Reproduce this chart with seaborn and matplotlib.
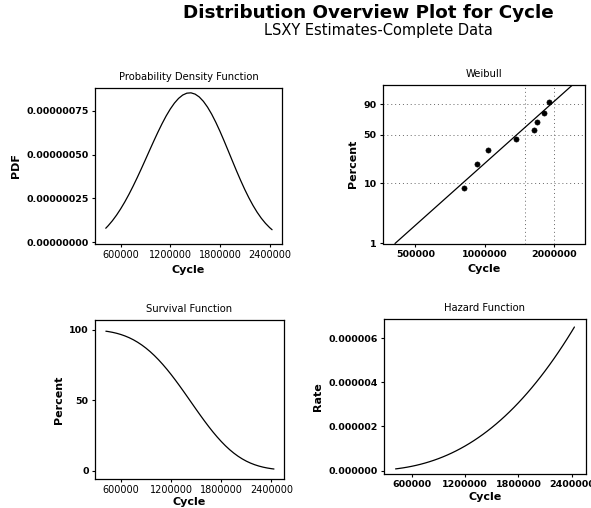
import numpy as np
import pandas as pd
import matplotlib
matplotlib.use("Agg")
import matplotlib.pyplot as plt
import seaborn as sns
from matplotlib.ticker import FixedLocator, FuncFormatter, NullLocator

# ---------------- data ----------------
cycle = [420000, 450000, 500000, 550000, 600000, 650000, 700000, 750000, 800000,
         850000, 900000, 950000, 1000000, 1050000, 1100000, 1150000, 1200000,
         1250000, 1300000, 1350000, 1400000, 1450000, 1500000, 1550000, 1600000,
         1650000, 1700000, 1750000, 1800000, 1850000, 1900000, 1950000, 2000000,
         2050000, 2100000, 2150000, 2200000, 2250000, 2300000, 2350000, 2400000,
         2430000]
pdf_vals = [7.99e-8, 9.47e-8, 1.226e-7, 1.545e-7, 1.904e-7, 2.300e-7, 2.732e-7,
            3.195e-7, 3.685e-7, 4.195e-7, 4.718e-7, 5.247e-7, 5.770e-7, 6.278e-7,
            6.760e-7, 7.206e-7, 7.601e-7, 7.939e-7, 8.207e-7, 8.398e-7, 8.505e-7,
            8.524e-7, 8.451e-7, 8.289e-7, 8.039e-7, 7.709e-7, 7.308e-7, 6.844e-7,
            6.333e-7, 5.785e-7, 5.217e-7, 4.644e-7, 4.076e-7, 3.529e-7, 3.010e-7,
            2.532e-7, 2.096e-7, 1.708e-7, 1.370e-7, 1.081e-7, 8.38e-8, 7.14e-8]
survival_pct = [99.04, 98.78, 98.23, 97.54, 96.68, 95.63, 94.38, 92.90, 91.18,
                89.21, 86.98, 84.49, 81.74, 78.72, 75.46, 71.97, 68.27, 64.38,
                60.34, 56.18, 51.95, 47.69, 43.44, 39.26, 35.17, 31.23, 27.47,
                23.93, 20.64, 17.60, 14.85, 12.39, 10.21, 8.31, 6.67, 5.29, 4.14,
                3.19, 2.42, 1.81, 1.33, 1.10]
hazard_rate = [8.07e-8, 9.59e-8, 1.248e-7, 1.584e-7, 1.969e-7, 2.405e-7, 2.894e-7,
               3.439e-7, 4.041e-7, 4.702e-7, 5.424e-7, 6.210e-7, 7.059e-7,
               7.975e-7, 8.959e-7, 1.0012e-6, 1.1135e-6, 1.2332e-6, 1.3602e-6,
               1.4950e-6, 1.6371e-6, 1.7873e-6, 1.9454e-6, 2.1115e-6, 2.2860e-6,
               2.4688e-6, 2.6601e-6, 2.8599e-6, 3.0687e-6, 3.2863e-6, 3.5129e-6,
               3.7485e-6, 3.9938e-6, 4.2477e-6, 4.5113e-6, 4.7849e-6, 5.0678e-6,
               5.3608e-6, 5.6637e-6, 5.9764e-6, 6.2995e-6, 6.4982e-6]

weib_cycle = [813000, 926000, 1030000, 1372000, 1630000, 1691000, 1801000, 1893000]
weib_pct = [8.3, 20.2, 32.1, 44.0, 56.0, 67.9, 79.8, 91.7]
fit_cycle = [408000, 2400000]
fit_pct = [1.0, 99.2]

lin_xticks = [600000, 1200000, 1800000, 2400000]
pdf_yticks = [0.0, 2.5e-7, 5.0e-7, 7.5e-7]
surv_yticks = [0, 50, 100]
haz_yticks = [0.0, 2e-6, 4e-6, 6e-6]
weib_xticks = [500000, 1000000, 2000000]
weib_yticks = [1, 10, 50, 90]
weib_hgrid = [10, 50, 90]
weib_vgrid = [1500000, 2000000]

# ---------------- style ----------------
sns.set_theme(style="ticks")
plt.rcParams["font.family"] = ["DejaVu Sans"]
plt.rcParams["text.color"] = "black"
plt.rcParams["axes.labelcolor"] = "black"
plt.rcParams["xtick.color"] = "black"
plt.rcParams["ytick.color"] = "black"
plt.rcParams["axes.edgecolor"] = "black"
plt.rcParams["axes.linewidth"] = 0.9
plt.rcParams["xtick.major.size"] = 2.5
plt.rcParams["ytick.major.size"] = 2.5
plt.rcParams["xtick.major.width"] = 0.8
plt.rcParams["ytick.major.width"] = 0.8

W, H = 591, 508
fig = plt.figure(figsize=(W / 100, H / 100), dpi=100)


def box(l, t, r, b):
    return [l / W, 1 - b / H, (r - l) / W, (b - t) / H]


ax_pdf = fig.add_axes(box(95, 88, 282, 244))
ax_wb = fig.add_axes(box(383, 85, 585, 243.5))
ax_sv = fig.add_axes(box(95, 320, 284, 479))
ax_hz = fig.add_axes(box(384, 319, 586, 474))

df = pd.DataFrame({"Cycle": cycle, "PDF": pdf_vals,
                   "Survival": survival_pct, "Rate": hazard_rate})

lab_kw = dict(fontsize=8, fontweight="bold")
title_kw = dict(fontsize=7.2)

for ax in (ax_pdf, ax_wb, ax_sv, ax_hz):
    ax.tick_params(colors="black", pad=2)

# PDF
sns.lineplot(data=df, x="Cycle", y="PDF", ax=ax_pdf, color="black", lw=0.9)
ax_pdf.set_xlim(290000, 2550000)
ax_pdf.set_ylim(-1.0e-8, 8.8e-7)
ax_pdf.yaxis.set_major_locator(FixedLocator(pdf_yticks))
ax_pdf.yaxis.set_major_formatter(FuncFormatter(lambda v, p: f"{v:.8f}"))
ax_pdf.set_title("Probability Density Function", pad=6, **title_kw)
ax_pdf.set_ylabel("PDF", labelpad=4, **lab_kw)

# Survival
sns.lineplot(data=df, x="Cycle", y="Survival", ax=ax_sv, color="black", lw=0.9)
ax_sv.set_xlim(290000, 2550000)
ax_sv.set_ylim(-6, 107)
ax_sv.yaxis.set_major_locator(FixedLocator(surv_yticks))
ax_sv.yaxis.set_major_formatter(FuncFormatter(lambda v, p: f"{v:.0f}"))
ax_sv.set_title("Survival Function", pad=6, **title_kw)
ax_sv.set_ylabel("Percent", labelpad=4, **lab_kw)

# Hazard
sns.lineplot(data=df, x="Cycle", y="Rate", ax=ax_hz, color="black", lw=0.9)
ax_hz.set_xlim(290000, 2560000)
ax_hz.set_ylim(-1.5e-7, 6.86e-6)
ax_hz.yaxis.set_major_locator(FixedLocator(haz_yticks))
ax_hz.yaxis.set_major_formatter(FuncFormatter(lambda v, p: f"{v:.6f}"))
ax_hz.set_title("Hazard Function", pad=6, **title_kw)
ax_hz.set_ylabel("Rate", labelpad=4, **lab_kw)

for ax, lp in ((ax_pdf, 3.5), (ax_sv, 1.0), (ax_hz, 2.0)):
    ax.xaxis.set_major_locator(FixedLocator(lin_xticks))
    ax.xaxis.set_major_formatter(FuncFormatter(lambda v, p: f"{v:.0f}"))
    ax.set_xlabel("Cycle", labelpad=lp, **lab_kw)


# Weibull probability plot
def fwd(p):
    p = np.clip(np.asarray(p, dtype=float), 1e-9, 100 - 1e-9)
    return np.log(-np.log(1 - p / 100.0))


def inv(y):
    return 100.0 * (1 - np.exp(-np.exp(np.asarray(y, dtype=float))))


ax_wb.set_xscale("log")
ax_wb.set_yscale("function", functions=(fwd, inv))
for g in weib_hgrid:
    ax_wb.axhline(g, color="0.4", lw=0.7, ls=(0, (1, 3)), zorder=0)
for g in weib_vgrid:
    ax_wb.axvline(g, color="0.4", lw=0.7, ls=(0, (1, 3)), zorder=0)
fit_df = pd.DataFrame({"Cycle": fit_cycle, "Percent": fit_pct})
sns.lineplot(data=fit_df, x="Cycle", y="Percent", ax=ax_wb, color="black", lw=0.9)
pts_df = pd.DataFrame({"Cycle": weib_cycle, "Percent": weib_pct})
sns.scatterplot(data=pts_df, x="Cycle", y="Percent", ax=ax_wb, color="black",
                s=14, edgecolor="black", linewidth=0.4, zorder=3)
ax_wb.set_xlim(362000, 2720000)
ax_wb.set_ylim(1.0, 99.2)
ax_wb.xaxis.set_major_locator(FixedLocator(weib_xticks))
ax_wb.xaxis.set_minor_locator(NullLocator())
ax_wb.xaxis.set_major_formatter(FuncFormatter(lambda v, p: f"{v:.0f}"))
ax_wb.yaxis.set_major_locator(FixedLocator(weib_yticks))
ax_wb.yaxis.set_minor_locator(NullLocator())
ax_wb.yaxis.set_major_formatter(FuncFormatter(lambda v, p: f"{v:.0f}"))
ax_wb.set_title("Weibull", pad=6, **title_kw)
ax_wb.set_ylabel("Percent", labelpad=4, **lab_kw)
ax_wb.set_xlabel("Cycle", labelpad=3.5, **lab_kw)

for ax in (ax_pdf, ax_wb, ax_sv, ax_hz):
    for s in ax.spines.values():
        s.set_color("black")
        s.set_visible(True)
    for lbl in ax.get_yticklabels():
        lbl.set_fontsize(6.8)
        lbl.set_fontweight("bold")
for ax in (ax_pdf, ax_sv):
    for lbl in ax.get_xticklabels():
        lbl.set_fontsize(7.0)
        lbl.set_fontweight("normal")
for ax in (ax_wb, ax_hz):
    for lbl in ax.get_xticklabels():
        lbl.set_fontsize(6.8)
        lbl.set_fontweight("bold")

fig.text(368 / W, 1 - 13 / H, "Distribution Overview Plot for Cycle",
         ha="center", va="center", fontsize=13.2, fontweight="bold")
fig.text(378 / W, 1 - 30 / H, "LSXY Estimates-Complete Data",
         ha="center", va="center", fontsize=10.5)

fig.savefig("out.png", dpi=100, facecolor="white")
